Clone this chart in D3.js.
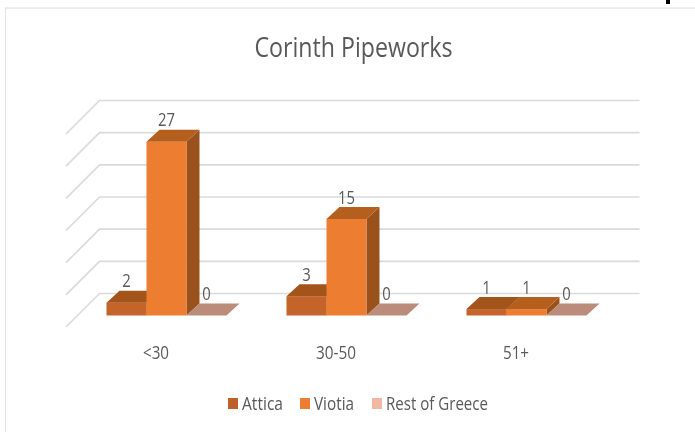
<!DOCTYPE html>
<html>
<head>
<meta charset="utf-8">
<script src="https://cdn.jsdelivr.net/npm/d3@7"></script>
<style>
  html, body { margin: 0; padding: 0; background: #fff; overflow: hidden; }
  svg { display: block; filter: blur(0.4px); }
  text { font-family: "Open Sans", "Noto Sans", sans-serif; fill: #595959; }
</style>
</head>
<body>
<div id="chart"></div>
<script>
const categories = ['<30', '30-50', '51+'];
const seriesNames = ['Attica', 'Viotia', 'Rest of Greece'];
const attica = [2, 3, 1];
const viotia = [27, 15, 1];
const restOfGreece = [0, 0, 0];
const yTicks = [0, 5, 10, 15, 20, 25, 30];

const seriesValues = [attica, viotia, restOfGreece];
const WIDTH = 695;
const HEIGHT = 432;

// floor is a parallelogram: front edge y=327, wall sits DEPTH px back and up
const DEPTH = 33.5;
const BAR_OFFSET = 11;   // how far bars stand back from the front edge
const BAR_RISE = 11.5;
const BAR_DEPTH = 13;
const BAR_TOP_RISE = 12;

// front, top, side shades for each series
const COLOURS = [
  { front: '#c4642a', top: '#a3541b', side: '#9a5119', legend: '#bf6029' },
  { front: '#ed7d31', top: '#b55f1f', side: '#99521b', legend: '#ed7d31' },
  { front: '#bb8c7a', top: '#bb8c7a', side: '#bb8c7a', legend: '#f2b8a4' }
];

const svg = d3.select('#chart').append('svg')
  .attr('width', WIDTH)
  .attr('height', HEIGHT);

// window frame of the pasted slide
svg.append('line').attr('x1', 5.5).attr('x2', 5.5).attr('y1', 8).attr('y2', HEIGHT)
  .attr('stroke', '#e3e3e3').attr('stroke-width', 1);
svg.append('line').attr('x1', 5).attr('x2', WIDTH).attr('y1', 8).attr('y2', 8)
  .attr('stroke', '#dcdcdc').attr('stroke-width', 1);
svg.append('line').attr('x1', 668).attr('x2', 668).attr('y1', 0).attr('y2', 4)
  .attr('stroke', '#000').attr('stroke-width', 4);

svg.append('text')
  .attr('x', 353.5)
  .attr('y', 57)
  .attr('text-anchor', 'middle')
  .attr('textLength', 198)
  .attr('lengthAdjust', 'spacingAndGlyphs')
  .style('font-size', '27px')
  .text('Corinth Pipeworks');

const x = d3.scaleBand().domain(categories).range([66, 606]);
const x1 = d3.scaleBand().domain(seriesNames).range([30, 150]);
const y = d3.scaleLinear().domain([0, 30]).range([327, 134]);

// Gridlines: diagonal on the side wall, then straight along the back wall
const grid = svg.append('g');
yTicks.forEach(t => {
  const pts = [
    [x.range()[0], y(t)],
    [x.range()[0] + DEPTH, y(t) - DEPTH],
    [x.range()[1] + DEPTH, y(t) - DEPTH]
  ];
  grid.append('path')
    .attr('d', d3.line()(pts))
    .attr('fill', 'none')
    .attr('stroke', '#dadada')
    .attr('stroke-width', 1.6);
});

// Bars, drawn left to right so each one covers its neighbour's side face
const bars = svg.append('g');
const labels = svg.append('g');
categories.forEach((cat, ci) => {
  seriesNames.forEach((name, si) => {
    const v = seriesValues[si][ci];
    const c = COLOURS[si];
    const x0 = x(cat) + x1(name) + BAR_OFFSET - 0.5;
    const w = x1.bandwidth();
    const yBase = y(0) - BAR_RISE;
    const yTop = y(v) - BAR_RISE;

    if (v > 0) {
      bars.append('path')
        .attr('fill', c.side)
        .attr('d', d3.line()([
          [x0 + w, yBase], [x0 + w + BAR_DEPTH, yBase - BAR_TOP_RISE],
          [x0 + w + BAR_DEPTH, yTop - BAR_TOP_RISE], [x0 + w, yTop]
        ]) + 'Z');
      bars.append('rect')
        .attr('x', x0).attr('y', yTop)
        .attr('width', w).attr('height', yBase - yTop)
        .attr('fill', c.front);
    }
    bars.append('path')
      .attr('fill', c.top)
      .attr('d', d3.line()([
        [x0, yTop], [x0 + BAR_DEPTH, yTop - BAR_TOP_RISE],
        [x0 + w + BAR_DEPTH, yTop - BAR_TOP_RISE], [x0 + w, yTop]
      ]) + 'Z');

    labels.append('text')
      .attr('x', x0 + w / 2)
      .attr('y', yTop - BAR_TOP_RISE - 3.5)
      .attr('text-anchor', 'middle')
      .attr('textLength', String(v).length * 8.5)
      .attr('lengthAdjust', 'spacingAndGlyphs')
      .style('font-size', '18px')
      .text(v);
  });
});

// Category axis, no line or ticks
const xAxis = svg.append('g')
  .attr('transform', 'translate(0,359)')
  .call(d3.axisBottom(x).tickSize(0));
xAxis.select('.domain').remove();
xAxis.attr('font-size', null).attr('font-family', null);
xAxis.selectAll('text')
  .attr('y', 0)
  .attr('dy', 0)
  .attr('textLength', d => d.length === 5 ? 40 : 26)
  .attr('lengthAdjust', 'spacingAndGlyphs')
  .style('font-size', '18px');

// Legend
const legendX = [228, 300, 372];
const legendW = [41, 40, 102];
seriesNames.forEach((name, i) => {
  svg.append('rect')
    .attr('x', legendX[i]).attr('y', 398)
    .attr('width', 10).attr('height', 11)
    .attr('fill', COLOURS[i].legend);
  svg.append('text')
    .attr('x', legendX[i] + 14)
    .attr('y', 410)
    .attr('textLength', legendW[i])
    .attr('lengthAdjust', 'spacingAndGlyphs')
    .style('font-size', '18px')
    .text(name);
});
</script>
</body>
</html>
